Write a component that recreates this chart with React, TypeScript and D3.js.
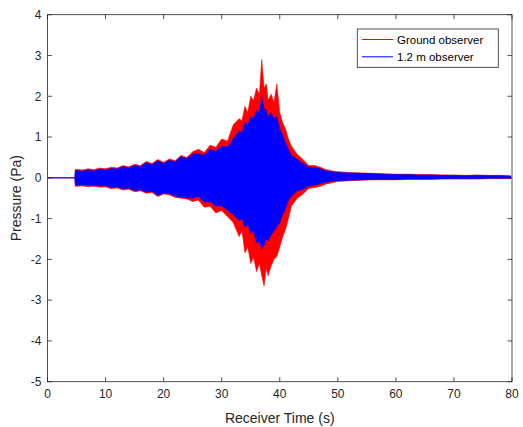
import React from "react";
import * as d3 from "d3";

// Receiver time (s) sample points for the envelopes
const times = [0, 4.7, 4.8, 6, 7, 8, 9, 10, 11, 12, 13, 14, 15, 16, 17, 18, 19, 20, 21, 22, 23, 24, 25, 26, 27, 28, 29, 30, 31, 32, 33, 33.5, 34, 34.5, 35, 35.5, 36, 36.5, 36.9, 37.3, 37.7, 38, 38.5, 39, 39.5, 40, 40.5, 41, 41.5, 42, 43, 44, 45, 46, 47, 48, 49, 50, 52, 54, 56, 58, 60, 62, 64, 66, 68, 70, 72, 74, 76, 78, 79.8];

// Ground observer envelope (Pa)
const groundUpper = [0, 0, 0.21, 0.19, 0.22, 0.2, 0.24, 0.22, 0.26, 0.24, 0.3, 0.27, 0.33, 0.3, 0.4, 0.35, 0.45, 0.38, 0.46, 0.42, 0.55, 0.5, 0.64, 0.7, 0.62, 0.8, 0.75, 0.95, 0.9, 1.3, 1.45, 1.4, 1.75, 1.6, 2.0, 1.9, 2.2, 2.05, 2.9, 2.2, 2.3, 1.9, 2.05, 1.85, 2.3, 1.6, 1.35, 1.2, 0.95, 0.78, 0.58, 0.45, 0.3, 0.3, 0.26, 0.2, 0.17, 0.15, 0.13, 0.12, 0.11, 0.1, 0.09, 0.09, 0.08, 0.08, 0.07, 0.07, 0.06, 0.07, 0.06, 0.06, 0.05];
const groundLower = [0, 0, -0.21, -0.2, -0.22, -0.21, -0.23, -0.22, -0.27, -0.25, -0.3, -0.28, -0.34, -0.32, -0.38, -0.36, -0.46, -0.4, -0.42, -0.48, -0.5, -0.52, -0.58, -0.55, -0.72, -0.7, -0.86, -0.8, -0.95, -1.1, -1.44, -1.3, -1.84, -1.7, -2.1, -1.95, -2.3, -2.1, -2.4, -2.65, -2.2, -2.4, -2.17, -2.0, -1.93, -1.7, -1.45, -1.27, -1.0, -0.7, -0.5, -0.4, -0.26, -0.24, -0.21, -0.15, -0.12, -0.09, -0.07, -0.06, -0.05, -0.05, -0.05, -0.04, -0.04, -0.04, -0.03, -0.03, -0.03, -0.03, -0.02, -0.02, -0.02];

// 1.2 m observer envelope (Pa)
const elevUpper = [0, 0, 0.18, 0.16, 0.19, 0.17, 0.21, 0.19, 0.23, 0.21, 0.27, 0.24, 0.3, 0.27, 0.37, 0.32, 0.42, 0.35, 0.43, 0.39, 0.52, 0.47, 0.58, 0.6, 0.55, 0.7, 0.65, 0.78, 0.75, 0.95, 1.15, 1.1, 1.35, 1.3, 1.5, 1.45, 1.65, 1.6, 2.0, 1.7, 1.65, 1.5, 1.6, 1.45, 1.5, 1.2, 1.05, 0.85, 0.7, 0.55, 0.45, 0.35, 0.26, 0.25, 0.22, 0.17, 0.15, 0.13, 0.12, 0.11, 0.1, 0.09, 0.08, 0.08, 0.07, 0.07, 0.06, 0.06, 0.05, 0.06, 0.05, 0.05, 0.04];
const elevLower = [0, 0, -0.18, -0.17, -0.19, -0.18, -0.2, -0.19, -0.24, -0.22, -0.27, -0.25, -0.31, -0.29, -0.35, -0.33, -0.43, -0.37, -0.39, -0.45, -0.47, -0.49, -0.5, -0.45, -0.6, -0.58, -0.7, -0.68, -0.8, -0.9, -1.05, -1.0, -1.2, -1.15, -1.35, -1.3, -1.6, -1.55, -1.75, -1.65, -1.5, -1.55, -1.4, -1.3, -1.2, -1.1, -0.9, -0.75, -0.55, -0.45, -0.32, -0.28, -0.2, -0.18, -0.14, -0.1, -0.08, -0.07, -0.06, -0.05, -0.04, -0.04, -0.04, -0.03, -0.03, -0.03, -0.02, -0.02, -0.02, -0.02, -0.01, -0.01, -0.01];

const xTicks = [0, 10, 20, 30, 40, 50, 60, 70, 80];
const yTicks = [-5, -4, -3, -2, -1, 0, 1, 2, 3, 4];
const seriesNames = ["Ground observer", "1.2 m observer"];
const seriesColors = ["#ff0000", "#0000ff"];

const W = 523;
const H = 427;
const margin = { left: 47.5, right: 11, top: 14.7, bottom: 45.3 };
const axisColor = "#262626";
const font = "'Liberation Sans', Arial, Helvetica, sans-serif";

export default function App() {
  const x = d3.scaleLinear().domain([0, 80]).range([margin.left, W - margin.right]);
  const y = d3.scaleLinear().domain([-5, 4]).range([H - margin.bottom, margin.top]);

  const mk = (up: number[], lo: number[]) =>
    d3
      .area<number>()
      .x((d) => x(times[d]))
      .y0((d) => y(lo[d]))
      .y1((d) => y(up[d]))(times.map((_, i) => i)) || "";

  const series = [
    { path: mk(groundUpper, groundLower), color: seriesColors[0] },
    { path: mk(elevUpper, elevLower), color: seriesColors[1] },
  ];

  const x0 = x(0), x1 = x(80), y0 = y(-5), y1 = y(4);
  const tl = 4.5;

  return (
    <svg width={W} height={H} style={{ position: "absolute", left: 0, top: 0, background: "#fff" }}>
      <rect x={0} y={0} width={W} height={H} fill="#fff" />
      <defs>
        <clipPath id="plotclip">
          <rect x={x0} y={y1} width={x1 - x0} height={y0 - y1} />
        </clipPath>
      </defs>
      <g clipPath="url(#plotclip)">
        {series.map((s, i) => (
          <path key={i} d={s.path} fill={s.color} stroke={s.color} strokeWidth={0.6} strokeLinejoin="miter" />
        ))}
      </g>
      {/* axes box */}
      <rect x={x0} y={y1} width={x1 - x0} height={y0 - y1} fill="none" stroke={axisColor} strokeWidth={0.8} />
      {xTicks.map((t) => (
        <g key={"x" + t}>
          <line x1={x(t)} x2={x(t)} y1={y0} y2={y0 - tl} stroke={axisColor} strokeWidth={0.8} />
          <line x1={x(t)} x2={x(t)} y1={y1} y2={y1 + tl} stroke={axisColor} strokeWidth={0.8} />
          <text x={x(t)} y={y0 + 16.5} textAnchor="middle" fontFamily={font} fontSize={12} fill={axisColor}>
            {t}
          </text>
        </g>
      ))}
      {yTicks.map((t) => (
        <g key={"y" + t}>
          <line x1={x0} x2={x0 + tl} y1={y(t)} y2={y(t)} stroke={axisColor} strokeWidth={0.8} />
          <line x1={x1} x2={x1 - tl} y1={y(t)} y2={y(t)} stroke={axisColor} strokeWidth={0.8} />
          <text x={x0 - 6} y={y(t) + 4.3} textAnchor="end" fontFamily={font} fontSize={12} fill={axisColor}>
            {t}
          </text>
        </g>
      ))}
      <text x={(x0 + x1) / 2} y={423} textAnchor="middle" fontFamily={font} fontSize={14} fill={axisColor}>
        Receiver Time (s)
      </text>
      <text
        transform={`translate(${21},${(y0 + y1) / 2}) rotate(-90)`}
        textAnchor="middle"
        fontFamily={font}
        fontSize={14}
        fill={axisColor}
      >
        Pressure (Pa)
      </text>
      {/* legend */}
      <rect x={357.3} y={29} width={141} height={38.3} fill="#fff" stroke={axisColor} strokeWidth={0.8} />
      {seriesNames.map((n, i) => (
        <g key={n}>
          <line x1={362} x2={393} y1={39.5 + i * 17.3} y2={39.5 + i * 17.3} stroke={seriesColors[i]} strokeWidth={1} />
          <text x={397} y={39.5 + i * 17.3 + 4} fontFamily={font} fontSize={11.5} fill="#000">
            {n}
          </text>
        </g>
      ))}
    </svg>
  );
}
